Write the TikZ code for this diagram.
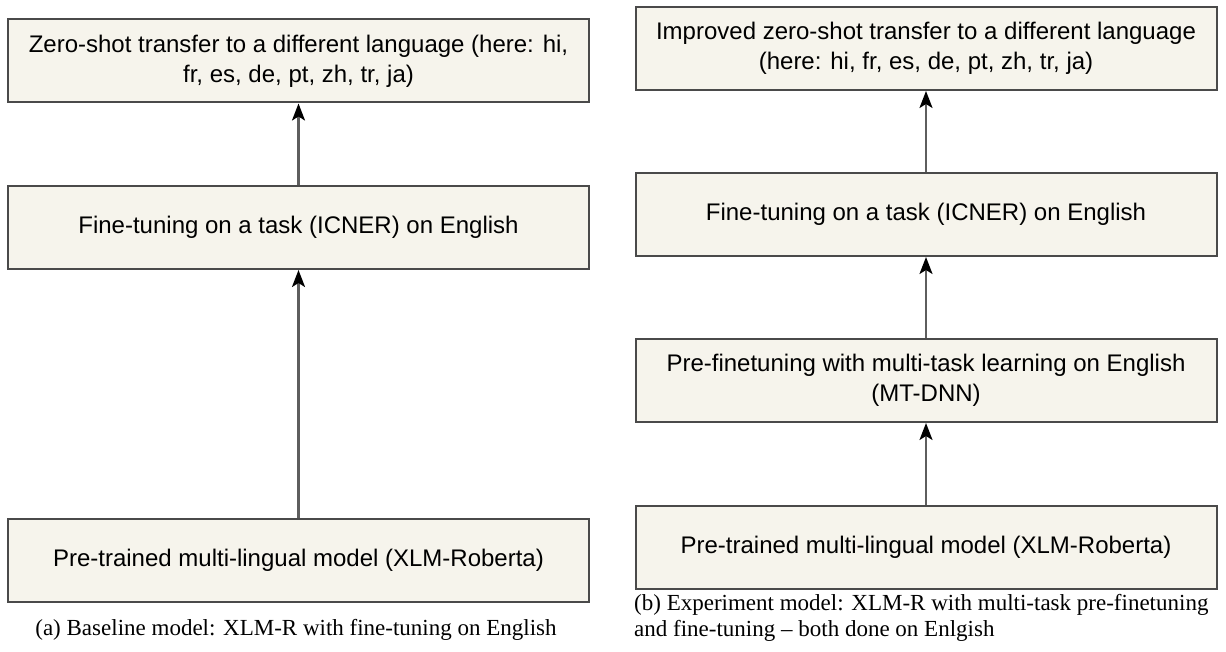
\documentclass[tikz,border=0pt]{standalone}
\usepackage{fontspec}
\setmainfont{Liberation Serif}
\setsansfont{Liberation Sans}
\usetikzlibrary{arrows.meta,positioning}
\definecolor{boxfill}{HTML}{F6F4EC}
\definecolor{boxline}{HTML}{4A4A4A}
\definecolor{arrline}{HTML}{5E5E5E}

\begin{document}
\begin{tikzpicture}[x = 1pt, y = -1pt,
  stage/.style = {draw=boxline, line width=2pt, fill=boxfill, minimum width=581pt,
    minimum height=83pt, align=center, inner sep=0pt,
    font=\sffamily\fontsize{24}{30}\selectfont},
  flow/.style = {-{Stealth[length=17pt, width=13pt, inset=4pt, black]}, draw=arrline, line width=2.2pt},
  caption/.style = {inner sep=0pt, align=left, font=\fontsize{23}{26}\selectfont}]
\useasboundingbox (0, 0) rectangle (1226, 652);
% (a) baseline
\node[stage] (zeroa) at (298.5, 61) {Zero-shot transfer to a different language (here: hi,\\fr, es, de, pt, zh, tr, ja)};
\node[stage] (finea) at (298.5, 227.5) {Fine-tuning on a task (ICNER) on English};
\node[stage] (prea) at (298.5, 560) {Pre-trained multi-lingual model (XLM-Roberta)};
\node[caption] (capa) at (296, 630) {(a) Baseline model: XLM-R with fine-tuning on English};
\draw[flow] (finea) -- (zeroa);
\draw[flow] (prea) -- (finea);
% (b) experiment
\node[stage] (zerob) at (926, 48.5) {Improved zero-shot transfer to a different language\\(here: hi, fr, es, de, pt, zh, tr, ja)};
\node[stage] (fineb) at (926, 214.5) {Fine-tuning on a task (ICNER) on English};
\node[stage] (mtdnn) at (926, 380.5) {Pre-finetuning with multi-task learning on English\\(MT-DNN)};
\node[stage] (preb) at (926, 547) {Pre-trained multi-lingual model (XLM-Roberta)};
\node[caption, anchor=west] (capb) at (634, 618) {(b) Experiment model: XLM-R with multi-task pre-finetuning\\and fine-tuning -- both done on Enlgish};
\draw[flow] (fineb) -- (zerob);
\draw[flow] (mtdnn) -- (fineb);
\draw[flow] (preb) -- (mtdnn);
\end{tikzpicture}
\end{document}
